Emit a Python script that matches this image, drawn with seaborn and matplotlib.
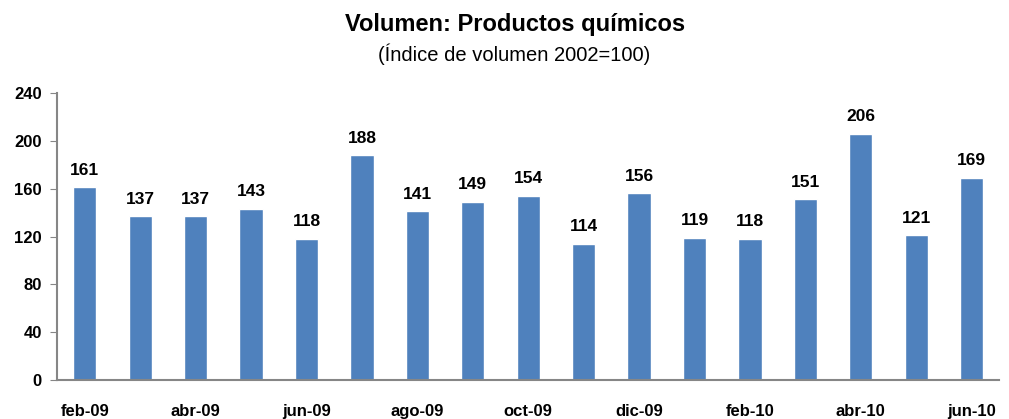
import matplotlib
matplotlib.use('Agg')
import matplotlib.pyplot as plt
import seaborn as sns
import numpy as np
import pandas as pd

months = ['feb-09', 'mar-09', 'abr-09', 'may-09', 'jun-09', 'jul-09', 'ago-09', 'sep-09',
          'oct-09', 'nov-09', 'dic-09', 'ene-10', 'feb-10', 'mar-10', 'abr-10', 'may-10', 'jun-10']
volumen = [161, 137, 137, 143, 118, 188, 141, 149, 154, 114, 156, 119, 118, 151, 206, 121, 169]
yticks = [0, 40, 80, 120, 160, 200, 240]

sns.set_style('white')
plt.rcParams['font.family'] = ['Liberation Sans', 'DejaVu Sans']
plt.rcParams['text.color'] = 'black'
plt.rcParams['xtick.color'] = 'black'
plt.rcParams['ytick.color'] = 'black'

df = pd.DataFrame({'mes': months, 'valor': volumen})

fig = plt.figure(figsize=(10.09, 4.19), dpi=100)
ax = fig.add_axes([0.0565, 0.093, 0.934, 0.685])
sns.barplot(data=df, x='mes', y='valor', color='#4F81BD', saturation=1, width=0.42, ax=ax)

for i, v in enumerate(volumen):
    ax.text(i, v + 8, str(v), ha='center', va='bottom', fontsize=12.5, fontweight='bold')

ax.set_xlim(-0.5, len(months) - 0.5)
ax.set_ylim(0, 240)
ax.set_yticks(yticks)
ax.set_yticklabels([str(t) for t in yticks], fontsize=12, fontweight='bold')

ax.set_xticks(range(0, len(months), 2))
ax.set_xticklabels(months[::2], fontsize=12, fontweight='bold')
ax.set_xticks(np.arange(-0.5, len(months), 2), minor=True)
ax.tick_params(axis='x', which='major', length=0, pad=17)
ax.tick_params(axis='x', which='minor', length=5, color='#868686', direction='out')
ax.tick_params(axis='y', length=5, color='#868686', labelcolor='black', direction='out', pad=6, left=True)
ax.set_xlabel('')
ax.set_ylabel('')

for s in ['top', 'right']:
    ax.spines[s].set_visible(False)
for s in ['left', 'bottom']:
    ax.spines[s].set_color('#868686')
    ax.spines[s].set_linewidth(1.5)

fig.text(0.51, 0.925, 'Volumen: Productos químicos', ha='center', fontsize=17, fontweight='bold')
fig.text(0.51, 0.855, '(Índice de volumen 2002=100)', ha='center', fontsize=14.5)

fig.savefig('out.png', dpi=100)
plt.close()
